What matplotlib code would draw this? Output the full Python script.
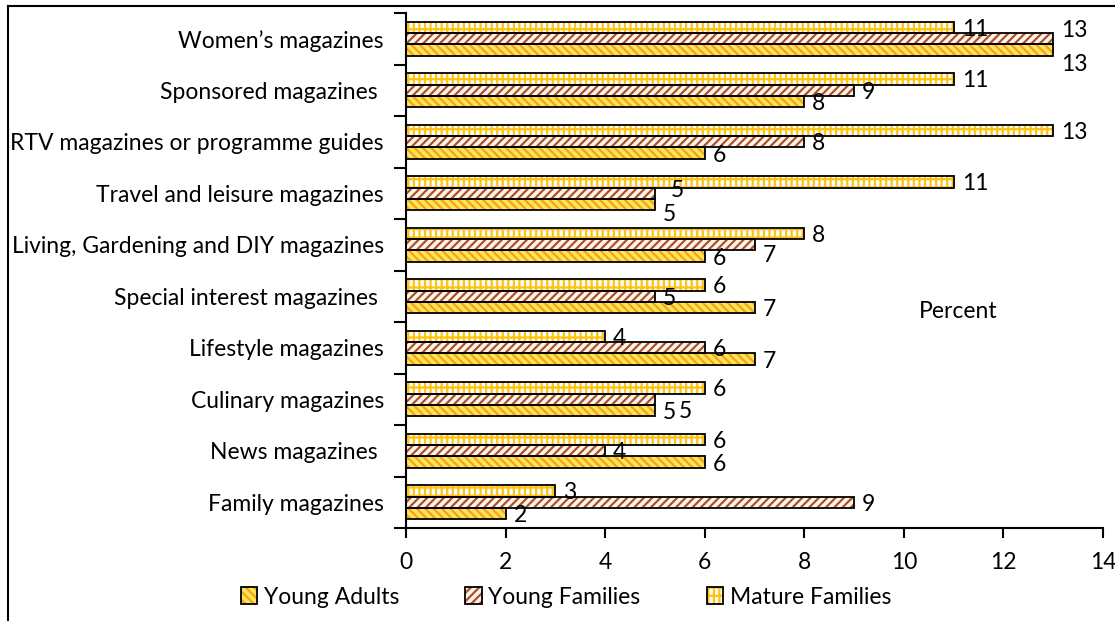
import matplotlib
matplotlib.use("Agg")
import matplotlib.pyplot as plt
from matplotlib.patches import Patch
from matplotlib.lines import Line2D
from matplotlib.legend_handler import HandlerTuple
import numpy as np

categories = [
    "Family magazines",
    "News magazines ",
    "Culinary magazines",
    "Lifestyle magazines",
    "Special interest magazines ",
    "Living, Gardening and DIY magazines",
    "Travel and leisure magazines",
    "RTV magazines or programme guides",
    "Sponsored magazines ",
    "Women\u2019s magazines",
]
young_adults = [2, 6, 5, 7, 7, 6, 5, 6, 8, 13]
young_families = [9, 4, 5, 6, 5, 7, 5, 8, 9, 13]
mature_families = [3, 6, 6, 4, 6, 8, 11, 13, 11, 11]
series_names = ["Young Adults", "Young Families", "Mature Families"]
x_ticks = [0, 2, 4, 6, 8, 10, 12, 14]

plt.rcParams["font.family"] = ["Lato", "DejaVu Sans"]
plt.rcParams["hatch.linewidth"] = 1.6
FS = 16.5

fig = plt.figure(figsize=(11.15, 6.21), dpi=100)
ax = fig.add_axes([406 / 1115, 1 - 528 / 621, (1103 - 406) / 1115, (528 - 13) / 621])

styles = {
    "Young Adults": dict(face="#FFE45A", hatch="\\\\\\\\", hcolor="#F2A516"),
    "Young Families": dict(face="#FFF6EE", hatch="////", hcolor="#AF4F26"),
    "Mature Families": dict(face="#FFFFFF", hatch="|||--", hcolor="#FFC20E"),
}

y = np.arange(len(categories))
h = 0.22
series = [
    ("Young Adults", young_adults, -h),
    ("Young Families", young_families, 0.0),
    ("Mature Families", mature_families, h),
]

# per-label pixel nudges (category index, series) -> (dx, dy)
nudges = {
    (9, "Young Families"): (0, 10),
    (9, "Young Adults"): (0, -12),
    (6, "Young Families"): (8, 5),
    (6, "Young Adults"): (0, -8),
    (5, "Young Families"): (0, -9),
    (2, "Young Families"): (16, -10),
}

handles = []
for name, vals, off in series:
    st = styles[name]
    ax.barh(y + off, vals, height=h, color=st["face"], hatch=st["hatch"],
            edgecolor=st["hcolor"], linewidth=0, zorder=2)
    ax.barh(y + off, vals, height=h, fill=False, edgecolor="black",
            linewidth=1.3, zorder=3)
    for i, v in enumerate(vals):
        dx, dy = nudges.get((i, name), (0, 0))
        ax.annotate(str(v), (v, y[i] + off), xytext=(8 + dx, -2 + dy),
                    textcoords="offset pixels", ha="left", va="center",
                    fontsize=FS, color="black", zorder=4)
    p1 = Patch(facecolor=st["face"], hatch=st["hatch"], edgecolor=st["hcolor"], linewidth=0)
    p2 = Patch(fill=False, edgecolor="black", linewidth=1.3)
    handles.append((p1, p2))

ax.set_xlim(0, 14)
ax.set_ylim(-0.5, len(categories) - 0.5)
ax.set_xticks(x_ticks)
ax.set_xticklabels([str(t) for t in x_ticks], fontsize=FS)
ax.tick_params(axis="x", direction="out", length=7, width=1.5, pad=10)

ax.set_yticks(np.arange(len(categories) + 1) - 0.5)
ax.set_yticklabels([])
ax.set_yticks(y, minor=True)
ax.set_yticklabels(categories, minor=True, fontsize=FS)
ax.tick_params(axis="y", which="major", direction="out", length=9, width=1.5)
ax.tick_params(axis="y", which="minor", length=0, pad=16)

for s in ["top", "right"]:
    ax.spines[s].set_visible(False)
for s in ["left", "bottom"]:
    ax.spines[s].set_linewidth(1.5)

fig.text(958 / 1115, 1 - 312 / 621, "Percent", fontsize=FS, ha="center", va="center")

fig.legend(handles, series_names, loc="center", bbox_to_anchor=(566 / 1115, 1 - 597 / 621),
           ncol=3, frameon=False, fontsize=FS, handlelength=0.7, handleheight=0.7,
           handletextpad=0.3, columnspacing=2.9,
           handler_map={tuple: HandlerTuple(ndivide=1)})

# outer frame lines
fig.add_artist(Line2D([8 / 1115, 8 / 1115], [0, 1 - 6 / 621], transform=fig.transFigure,
                      color="black", linewidth=1.5))
fig.add_artist(Line2D([8 / 1115, 1], [1 - 6 / 621, 1 - 6 / 621], transform=fig.transFigure,
                      color="black", linewidth=1.5))

fig.savefig("out.png", dpi=100)
